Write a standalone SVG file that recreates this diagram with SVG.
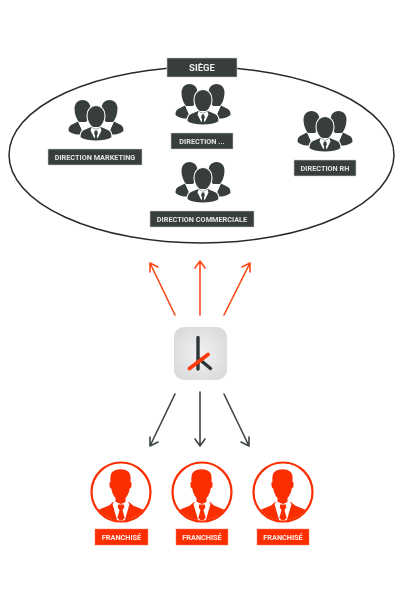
<svg xmlns="http://www.w3.org/2000/svg" width="404" height="595" viewBox="0 0 404 595">
<style>
.lbl{font-family:Roboto,"Liberation Sans",sans-serif;font-weight:700;text-anchor:middle;fill:#e4e4e4;font-size:7.300px}
.dk{fill:#373d3e;stroke:#c9cbcb;stroke-width:.6}
.rd{fill:#fb2f06;stroke:#fb7a5c;stroke-width:.5}
.fr{fill:#fdeee8;font-size:7.300px}
.ao{fill:none;stroke:#fb4a18;stroke-width:1.600;stroke-linecap:round;stroke-linejoin:round}
.ad{fill:none;stroke:#3d4445;stroke-width:1.600;stroke-linecap:round;stroke-linejoin:round}
.h{fill:#373d3e}
.g{stroke:#fff;stroke-width:1.100}
</style>
<defs>
<filter id="soft" x="-2%" y="-2%" width="104%" height="104%"><feGaussianBlur stdDeviation="0.4"/></filter>
<radialGradient id="tile" cx="50%" cy="50%" r="60%"><stop offset="0" stop-color="#f2f2f3"/><stop offset="1" stop-color="#d9dadb"/></radialGradient>
<g id="team">
<path class="h" d="M-27.500 30.500c0-3 1-5 3.500-6l6-3 4 9-1 4-4 0c-3-.5-8.500-2.500-8.500-4z"/>
<path class="h" d="M27.500 30.500c0-3-1-5-3.500-6l-6-3-4 9 1 4 4 0c3-.5 8.500-2.500 8.500-4z"/>
<path class="h" d="M-13.500 0c-5 0-8 3.500-8 9 0 5 2 10 4.500 13l7 0c2.500-3 4.500-8 4.500-13 0-5.500-3-9-8-9z"/>
<path class="h" d="M13.500 0c5 0 8 3.500 8 9 0 5-2 10-4.500 13l-7 0c-2.500-3-4.500-8-4.500-13 0-5.500 3-9 8-9z"/>
<path fill="none" stroke="#fff" stroke-width=".9" d="M-17 22l4 9M17 22l-4 9M-10 22l-2 5M10 22l2 5"/>
<path class="h g" d="M0 5.500c-5.500 0-9 4.200-9 10 0 5 2.200 9 5 12l8 0c2.800-3 5-7 5-12 0-5.800-3.500-10-9-10z"/>
<path class="h g" d="M-16 37.500c0-4.500 1-7 4-8l7-3 5 2 5-2 7 3c3 1 4 3.500 4 8-3 2.500-9 3.500-16 3.500s-13-1-16-3.500z"/>
<path fill="#fff" d="M-4.500 27.500l4.500 2 4.500-2 1 3-4 8-1.500-5-1.500 5-4-8z"/>
<path class="h" d="M-1.200 30.500l2.400 0 .6 3-1.800 4-1.800-4z"/>
</g>
<clipPath id="cc"><circle cx="0" cy="0" r="28.500"/></clipPath>
<g id="person">
<circle r="29.500" fill="#fff" stroke="#fb2f06" stroke-width="2.200"/>
<g clip-path="url(#cc)">
<path fill="#fb2f06" d="M-9.500-19c-1.200 2-1.300 6-1 9-1 0-1.300 1-1 3.500.2 2 .8 3 1.800 3 .6 4 2.200 7.500 4.200 9.500l0 4 5 3 5-3 0-4c2-2 3.600-5.500 4.200-9.500 1 0 1.600-1 1.800-3 .3-2.500 0-3.500-1-3.500.3-3 .2-7-1-9-2-2.800-5.500-3.800-9-3.800s-7 1-9 3.800z"/>
<path fill="#fb2f06" d="M-32 32l0-11 9-3 11-4.500 4-3.500 8 2 8-2 4 3.500 11 4.500 9 3 0 11z"/>
<path fill="#fff" d="M-6.500 9.500l6.500 2.500 6.500-2.500 2 2.500-5 17.500-7 0-5-17.500z"/>
<path fill="#fb2f06" d="M-2.800 12.500l5.600 0 .5 3-1.800 2.500 2.200 8-3.700 3.500-3.700-3.500 2.200-8-1.800-2.500z"/>
</g>
</g>
</defs>
<rect width="404" height="595" fill="#fff"/>
<g filter="url(#soft)">
<g id="connectors">
<path class="ao" d="M175 315L150 263M150 272l0-9 8 4"/>
<path class="ao" d="M200 315L200 261M195 268l5-7 5 7"/>
<path class="ao" d="M224 315L250 263M242 267l8-4 0 9"/>
<path class="ad" d="M175 394L150 446M150 437l0 9 8-4"/>
<path class="ad" d="M200 392L200 446M195 439l5 7 5-7"/>
<path class="ad" d="M224 394L249 446M241 442l8 4 0-9"/>
</g>
<g id="siege">
<ellipse cx="201.500" cy="155" rx="192.500" ry="88" fill="#fff" stroke="#272c2d" stroke-width="1.500"/>
<rect class="dk" x="167" y="58" width="70" height="19"/>
<text class="lbl" x="202" y="70.500" style="font-size:9.500px;fill:#eeeeee">SIÈGE</text>
</g>
<g id="direction-marketing">
<use href="#team" x="96" y="100"/>
<rect class="dk" x="48" y="149" width="94" height="16"/>
<text class="lbl" x="95" y="159.500">DIRECTION MARKETING</text>
</g>
<g id="direction-autre">
<use href="#team" x="203" y="84"/>
<rect class="dk" x="171" y="133" width="62" height="16"/>
<text class="lbl" x="202" y="144">DIRECTION ...</text>
</g>
<g id="direction-commerciale">
<use href="#team" x="203" y="162"/>
<rect class="dk" x="150" y="211" width="104" height="16"/>
<text class="lbl" x="202" y="222">DIRECTION COMMERCIALE</text>
</g>
<g id="direction-rh">
<use href="#team" x="325" y="111"/>
<rect class="dk" x="294" y="160" width="62" height="16"/>
<text class="lbl" x="325" y="170.500">DIRECTION RH</text>
</g>
<g id="logo">
<rect x="174" y="327" width="53" height="53" rx="10" fill="url(#tile)"/>
<path d="M198 337.500L198 369M198 358L210.500 368.500" fill="none" stroke="#2f3637" stroke-width="3.400" stroke-linecap="round"/>
<path d="M189.500 368.500L208 354.500" fill="none" stroke="#fb3a0c" stroke-width="3.800" stroke-linecap="round"/>
</g>
<g id="franchise-1">
<use href="#person" x="121" y="492"/>
<rect class="rd" x="95" y="529" width="53" height="16"/>
<text class="lbl fr" x="121.500" y="540">FRANCHISÉ</text>
</g>
<g id="franchise-2">
<use href="#person" x="202" y="492"/>
<rect class="rd" x="176" y="529" width="52" height="16"/>
<text class="lbl fr" x="202" y="540">FRANCHISÉ</text>
</g>
<g id="franchise-3">
<use href="#person" x="283" y="492"/>
<rect class="rd" x="257" y="529" width="52" height="16"/>
<text class="lbl fr" x="283" y="540">FRANCHISÉ</text>
</g>
</g>
</svg>
